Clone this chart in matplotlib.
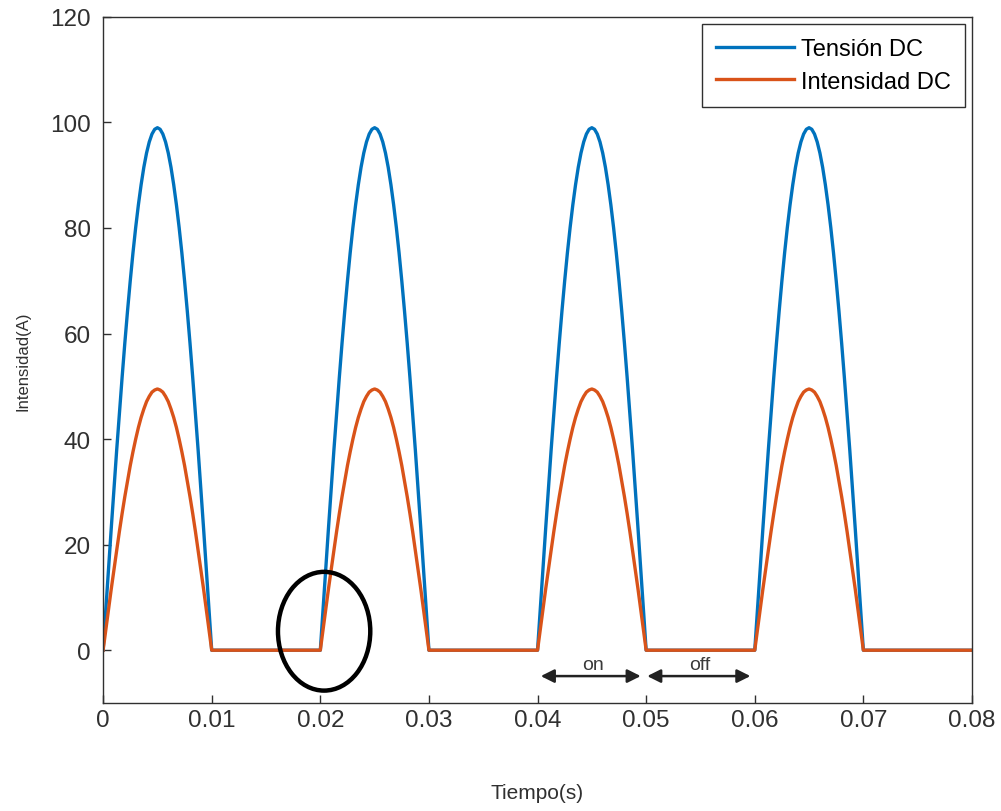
import numpy as np
import matplotlib.pyplot as plt
from matplotlib.patches import Ellipse

plt.rcParams['font.family'] = ['Liberation Sans', 'DejaVu Sans']

# one half-wave pulse (rising half)
tension_rise = [0, 7.8, 15.5, 23.1, 30.6, 37.9, 44.9, 51.7, 58.2, 64.3, 70.0,
                75.3, 80.1, 84.4, 88.2, 91.5, 94.2, 96.3, 97.8, 98.7, 99.0]
intensidad_rise = [0, 3.9, 7.7, 11.6, 15.3, 18.9, 22.5, 25.9, 29.1, 32.1, 35.0,
                   37.6, 40.0, 42.2, 44.1, 45.7, 47.1, 48.1, 48.9, 49.3, 49.5]
pulse_starts = [0.0, 0.02, 0.04, 0.06]
pulse_len = 0.01
t_end = 0.08

xticks = [0, 0.01, 0.02, 0.03, 0.04, 0.05, 0.06, 0.07, 0.08]
xticklabels = ['0', '0.01', '0.02', '0.03', '0.04', '0.05', '0.06', '0.07', '0.08']
yticks = [0, 20, 40, 60, 80, 100, 120]

tension_pulse = tension_rise + tension_rise[-2::-1]
intensidad_pulse = intensidad_rise + intensidad_rise[-2::-1]
n = len(tension_pulse)

t, v, i = [], [], []
for s in pulse_starts:
    t += list(s + np.linspace(0, pulse_len, n))
    v += tension_pulse
    i += intensidad_pulse
t.append(t_end); v.append(0); i.append(0)

fig = plt.figure(figsize=(10.01, 8.12), dpi=100)
ax = fig.add_axes([0.103, 0.133, 0.868, 0.845])

blue = '#0072BD'
orange = '#D95319'
ax.plot(t, v, color=blue, lw=2.4, label='Tensión DC')
ax.plot(t, i, color=orange, lw=2.4, label='Intensidad DC')

ax.set_xlim(0, 0.08)
ax.set_ylim(-10, 120)
ax.set_xticks(xticks)
ax.set_xticklabels(xticklabels)
ax.set_yticks(yticks)
dark = '#303030'
ax.tick_params(direction='in', length=6, width=1, colors=dark, labelsize=17.5)
ax.tick_params(axis='x', pad=4)
ax.tick_params(axis='y', pad=9)
for sp in ax.spines.values():
    sp.set_color(dark)
    sp.set_linewidth(1)

ax.set_xlabel('Tiempo(s)', fontsize=15, color=dark, labelpad=38)
ax.set_ylabel('Intensidad(A)', fontsize=12, color=dark, labelpad=14)

leg = ax.legend(loc='upper right', fontsize=17, handlelength=3.3,
                fancybox=False, framealpha=1, borderaxespad=0.3,
                handletextpad=0.3, labelspacing=0.45, borderpad=0.6)
leg.get_frame().set_edgecolor(dark)
leg.get_frame().set_linewidth(1)

# annotations
ax.add_patch(Ellipse((0.02035, 3.6), 0.0085, 22.5, fill=False,
                     edgecolor='black', lw=3.2, zorder=5))
arrow_kw = dict(arrowstyle='<|-|>', color='#222222', lw=1.8,
                mutation_scale=20, shrinkA=0, shrinkB=0)
ax.annotate('', xy=(0.0403, -4.9), xytext=(0.0495, -4.9), arrowprops=arrow_kw)
ax.annotate('', xy=(0.0501, -4.9), xytext=(0.0596, -4.9), arrowprops=arrow_kw)
ax.text(0.0451, -4.4, 'on', ha='center', va='bottom', fontsize=14, color='#3a3a3a')
ax.text(0.0549, -4.4, 'off', ha='center', va='bottom', fontsize=14, color='#3a3a3a')

fig.savefig('out.png', dpi=100)
